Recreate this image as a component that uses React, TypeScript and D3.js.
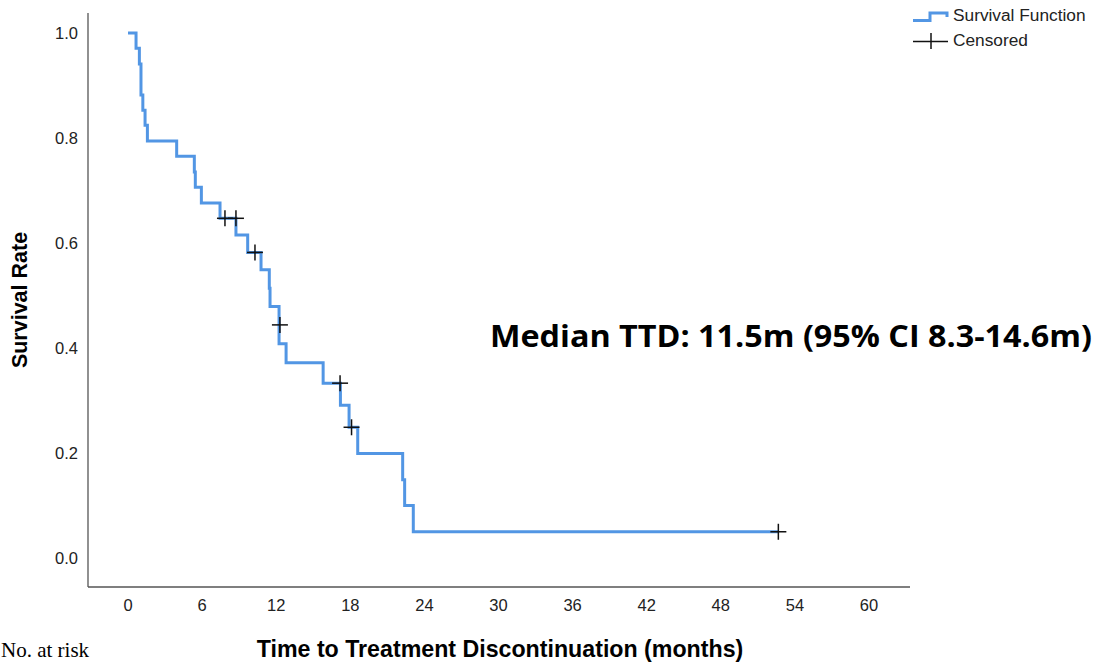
import { useEffect, useRef } from 'react';
import * as d3 from 'd3';

// step curve: time (months) and survival after the step
const stepTimes = [0, 0.65, 0.92, 1.05, 1.2, 1.38, 1.57, 3.94, 5.37, 5.45, 5.94, 7.45, 8.74, 9.69, 10.77, 11.44, 11.5, 12.23, 12.8, 15.8, 17.2, 17.9, 18.6, 22.24, 22.4, 23.1, 52.66];
const stepSurvival = [1.0, 0.971, 0.941, 0.882, 0.853, 0.824, 0.794, 0.765, 0.735, 0.706, 0.676, 0.647, 0.615, 0.582, 0.549, 0.514, 0.479, 0.408, 0.372, 0.333, 0.291, 0.249, 0.199, 0.149, 0.1, 0.05, 0.05];

const censorTimes = [7.85, 8.74, 10.28, 12.3, 17.17, 18.1, 52.66];
const censorSurvival = [0.647, 0.647, 0.582, 0.444, 0.333, 0.249, 0.05];

const xTicks = [0, 6, 12, 18, 24, 30, 36, 42, 48, 54, 60];
const yTicks = [0, 0.2, 0.4, 0.6, 0.8, 1.0];

const medianLabel = 'Median TTD: 11.5m (95% CI 8.3-14.6m)';

export default function App() {
  const svgRef = useRef<SVGSVGElement>(null);

  useEffect(() => {
    if (!svgRef.current) return;
    const svg = d3.select(svgRef.current);
    svg.selectAll('*').remove();

    const blue = '#5296e4';
    const axisColor = '#555';
    const font = 'Arial, "Liberation Sans", sans-serif';

    const x = d3.scaleLinear().domain([-3.24, 63.32]).range([88, 910]);
    const y = d3.scaleLinear().domain([-0.0552, 1.038]).range([587, 13]);

    // axes (no tick marks, just the lines)
    svg.append('line')
      .attr('x1', 88).attr('x2', 88).attr('y1', y(1.038)).attr('y2', 587)
      .attr('stroke', axisColor).attr('stroke-width', 1.3);
    svg.append('line')
      .attr('x1', 88).attr('x2', x(63.32)).attr('y1', 587).attr('y2', 587)
      .attr('stroke', axisColor).attr('stroke-width', 1.3);

    svg.append('g')
      .selectAll('text')
      .data(yTicks)
      .enter()
      .append('text')
      .attr('x', 78)
      .attr('y', (d) => y(d))
      .attr('dy', '0.35em')
      .attr('text-anchor', 'end')
      .style('font-family', font)
      .style('font-size', '16.5px')
      .style('fill', '#222')
      .text((d) => d3.format('.1f')(d));

    svg.append('g')
      .selectAll('text')
      .data(xTicks)
      .enter()
      .append('text')
      .attr('x', (d) => x(d))
      .attr('y', 611)
      .attr('text-anchor', 'middle')
      .style('font-family', font)
      .style('font-size', '16.5px')
      .style('fill', '#222')
      .text((d) => String(d));

    // survival curve
    const pts = stepTimes.map((t, i) => [t, stepSurvival[i]] as [number, number]);
    const line = d3.line<[number, number]>()
      .x((d) => x(d[0]))
      .y((d) => y(d[1]))
      .curve(d3.curveStepAfter);

    svg.append('path')
      .datum(pts)
      .attr('fill', 'none')
      .attr('stroke', blue)
      .attr('stroke-width', 3)
      .attr('d', line);

    // censor marks
    const cross = (g: d3.Selection<SVGGElement, unknown, null, undefined>, cx: number, cy: number, h: number) => {
      g.append('line').attr('x1', cx - h).attr('x2', cx + h).attr('y1', cy).attr('y2', cy)
        .attr('stroke', '#111').attr('stroke-width', 1.5);
      g.append('line').attr('x1', cx).attr('x2', cx).attr('y1', cy - h).attr('y2', cy + h)
        .attr('stroke', '#111').attr('stroke-width', 1.5);
    };
    const cg = svg.append('g');
    censorTimes.forEach((t, i) => cross(cg, x(t), y(censorSurvival[i]), 8));

    // legend
    const lg = svg.append('g');
    lg.append('path')
      .attr('d', 'M913,20.5 L930,20.5 L930,13 L947,13 L947,17')
      .attr('fill', 'none').attr('stroke', blue).attr('stroke-width', 3);
    lg.append('text').attr('x', 953).attr('y', 21)
      .style('font-family', font).style('font-size', '17.3px').style('fill', '#222')
      .text('Survival Function');
    lg.append('line').attr('x1', 913).attr('x2', 948).attr('y1', 41.5).attr('y2', 41.5)
      .attr('stroke', '#111').attr('stroke-width', 1.5);
    lg.append('line').attr('x1', 931).attr('x2', 931).attr('y1', 33).attr('y2', 49)
      .attr('stroke', '#111').attr('stroke-width', 1.5);
    lg.append('text').attr('x', 953).attr('y', 46)
      .style('font-family', font).style('font-size', '17.3px').style('fill', '#222')
      .text('Censored');

    // axis titles
    svg.append('text')
      .attr('transform', 'translate(27,300) rotate(-90)')
      .attr('text-anchor', 'middle')
      .style('font-family', font).style('font-size', '21.5px').style('font-weight', 'bold')
      .style('fill', '#000')
      .text('Survival Rate');

    svg.append('text')
      .attr('x', 500).attr('y', 657)
      .attr('text-anchor', 'middle')
      .style('font-family', font).style('font-size', '23.2px').style('font-weight', 'bold')
      .style('fill', '#000')
      .text('Time to Treatment Discontinuation (months)');

    svg.append('text')
      .attr('x', 1).attr('y', 657)
      .style('font-family', '"Liberation Serif", "Times New Roman", serif').style('font-size', '21px')
      .style('fill', '#000')
      .text('No. at risk');

    // median annotation
    svg.append('text')
      .attr('x', 490).attr('y', 347)
      .attr('textLength', 602)
      .attr('lengthAdjust', 'spacingAndGlyphs')
      .style('font-family', '"Open Sans", sans-serif').style('font-size', '31px').style('font-weight', 'bold')
      .style('fill', '#000')
      .text(medianLabel);

    return () => {
      svg.selectAll('*').remove();
    };
  }, []);

  return (
    <svg
      ref={svgRef}
      width={1093}
      height={664}
      style={{ position: 'absolute', left: 0, top: 0, background: '#fff' }}
    />
  );
}
